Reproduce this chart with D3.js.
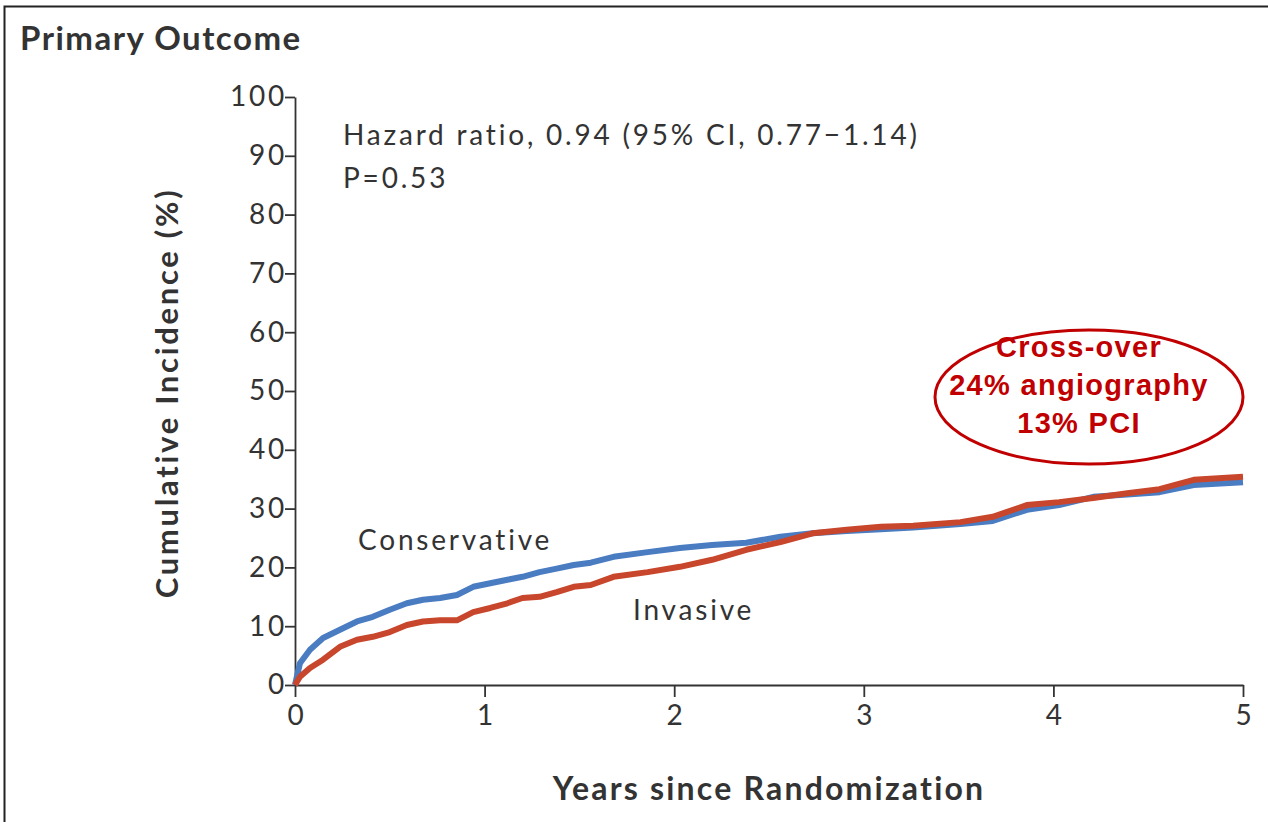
<!DOCTYPE html>
<html>
<head>
<meta charset="utf-8">
<script src="https://cdn.jsdelivr.net/npm/d3@7"></script>
<style>
  body { margin: 0; background: #fff; }
  text { font-family: Lato, "Open Sans", sans-serif; fill: #333; }
</style>
</head>
<body>
<script>
// years since randomization
let years = [0, 0.026, 0.079, 0.148, 0.237, 0.327, 0.41, 0.5, 0.59, 0.675, 0.765, 0.854, 0.94, 1.03, 1.12, 1.2, 1.29, 1.38, 1.47, 1.56, 1.68, 1.86, 2.03, 2.2, 2.38, 2.56, 2.73, 2.91, 3.09, 3.26, 3.51, 3.68, 3.86, 4.03, 4.21, 4.39, 4.56, 4.74, 5.0];
let conservative = [0, 3.7, 6.0, 8.0, 9.4, 10.8, 11.6, 12.8, 13.9, 14.5, 14.8, 15.3, 16.7, 17.3, 17.9, 18.4, 19.2, 19.8, 20.4, 20.8, 21.8, 22.6, 23.3, 23.8, 24.2, 25.2, 25.8, 26.2, 26.5, 26.8, 27.4, 27.9, 29.8, 30.6, 32.0, 32.4, 32.8, 34.0, 34.5];
let invasive = [0, 1.4, 2.9, 4.3, 6.5, 7.7, 8.2, 9.0, 10.2, 10.8, 11.0, 11.0, 12.4, 13.1, 13.9, 14.8, 15.0, 15.8, 16.7, 17.0, 18.4, 19.2, 20.1, 21.3, 23.0, 24.3, 25.8, 26.4, 26.9, 27.1, 27.7, 28.6, 30.6, 31.1, 31.8, 32.6, 33.3, 34.9, 35.4];
let yTicks = [0, 10, 20, 30, 40, 50, 60, 70, 80, 90, 100];
let xTicks = [0, 1, 2, 3, 4, 5];
let crossover = ["Cross-over", "24% angiography", "13% PCI"];

let canvas = d3.select("body")
            .append("svg")
            .attr("width", 1268)
            .attr("height", 822);

// frame (top + left edges only)
canvas.append("path")
    .attr("d", "M4.5,822 V6.5 H1268")
    .attr("fill", "none")
    .attr("stroke", "#222")
    .attr("stroke-width", 2);

let x = d3.scaleLinear().domain([0, 5]).range([295, 1243]);
let y = d3.scaleLinear().domain([0, 100]).range([685, 97]);

canvas.append("text")
    .attr("x", 20).attr("y", 50)
    .attr("font-size", 33).attr("font-weight", "bold")
    .attr("letter-spacing", 1.5)
    .text("Primary Outcome");

let yAxis = canvas.append("g")
    .attr("transform", "translate(295,0)")
    .call(d3.axisLeft(y).tickValues(yTicks).tickSize(10).tickSizeOuter(0).tickPadding(0));

let xAxis = canvas.append("g")
    .attr("transform", "translate(0,685)")
    .call(d3.axisBottom(x).tickValues(xTicks).tickFormat(d3.format("d")).tickSize(12).tickSizeOuter(0).tickPadding(8));

[yAxis, xAxis].forEach(a => {
    a.selectAll("path, line").attr("stroke", "#333").attr("stroke-width", 1.8);
    a.selectAll("text").attr("font-size", 28).attr("fill", "#333")
        .attr("letter-spacing", 2.8)
        .style("font-family", "Lato, sans-serif");
});
yAxis.selectAll("text").attr("dx", 2);
xAxis.selectAll("text").attr("dx", 1.4);

canvas.append("text")
    .attr("transform", "translate(178,393) rotate(-90)")
    .attr("text-anchor", "middle")
    .attr("font-size", 31).attr("font-weight", "bold")
    .attr("letter-spacing", 2.7)
    .text("Cumulative Incidence (%)");

canvas.append("text")
    .attr("x", 769).attr("y", 800)
    .attr("text-anchor", "middle")
    .attr("font-size", 32).attr("font-weight", "bold")
    .attr("letter-spacing", 2.2)
    .text("Years since Randomization");

let line = d3.line()
    .x(d => x(d[0]))
    .y(d => y(d[1]));

let series = [
    { name: "Conservative", values: conservative, color: "#4a7cc2" },
    { name: "Invasive", values: invasive, color: "#c8462b" }
];

series.forEach(s => {
    canvas.append("path")
        .datum(years.map((t, i) => [t, s.values[i]]))
        .attr("d", line)
        .attr("fill", "none")
        .attr("stroke", s.color)
        .attr("stroke-width", 6)
        .attr("stroke-linejoin", "round");
});

let label = (tx, ty, str) => {
    canvas.append("text")
        .attr("x", tx).attr("y", ty)
        .attr("font-size", 28)
        .attr("letter-spacing", 2.8)
        .text(str);
};
label(358, 550, "Conservative");
label(633, 620, "Invasive");
label(343, 145, "Hazard ratio, 0.94 (95% CI, 0.77\u22121.14)");
label(343, 188, "P=0.53");

canvas.append("ellipse")
    .attr("cx", 1089).attr("cy", 397)
    .attr("rx", 154).attr("ry", 67)
    .attr("fill", "#fff")
    .attr("stroke", "#c00000")
    .attr("stroke-width", 3);

canvas.selectAll("text.cross")
    .data(crossover)
    .enter().append("text")
    .attr("class", "cross")
    .attr("x", 1079)
    .attr("y", (d, i) => 357 + i * 38)
    .attr("text-anchor", "middle")
    .attr("font-size", 29)
    .attr("font-weight", "bold")
    .attr("letter-spacing", 1.3)
    .style("font-family", "'Liberation Sans', Arial, sans-serif")
    .style("fill", "#c00000")
    .text(d => d);
</script>
</body>
</html>
